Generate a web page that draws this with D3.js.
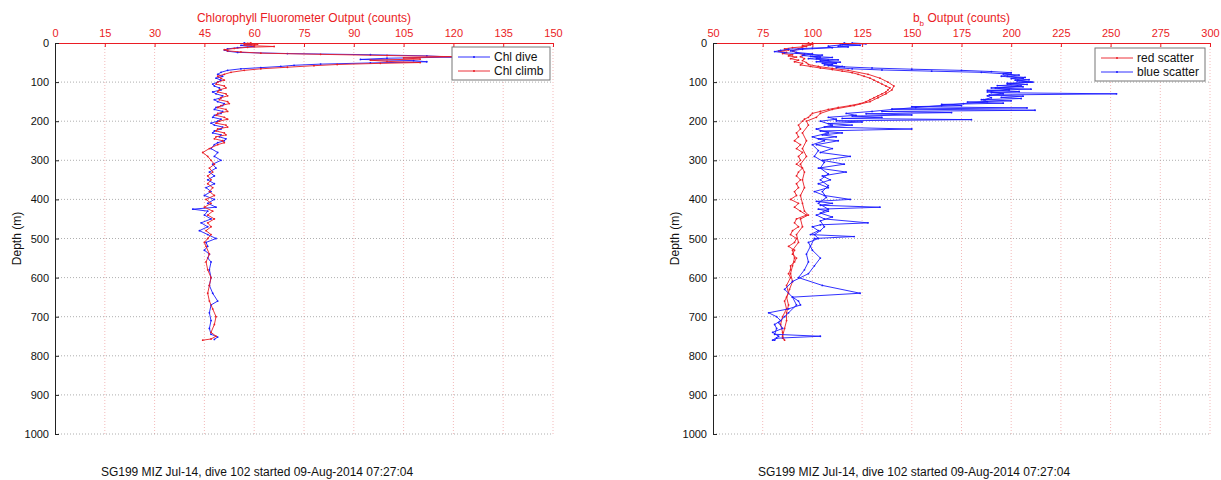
<!DOCTYPE html>
<html>
<head>
<meta charset="utf-8">
<script src="https://cdn.jsdelivr.net/npm/d3@7"></script>
<style>
  body { margin: 0; background: #fff; }
  svg { display: block; font-family: "Liberation Sans", Arial, sans-serif; }
</style>
</head>
<body>
<div id="chart"></div>
<script>
// depth ticks shared by both panels
const depthTicks = [0, 100, 200, 300, 400, 500, 600, 700, 800, 900, 1000]
const chlTicks = [0, 15, 30, 45, 60, 75, 90, 105, 120, 135, 150]
const bbTicks = [50, 75, 100, 125, 150, 175, 200, 225, 250, 275, 300]

// [depth (m), counts]
const chlDive = [[0,57],[3,59],[6,56],[9,60],[12,55],[15,52],[18,51],[21,52],[24,55],[27,70],[30,95],[33,112],[36,120],[39,100],[42,92],[45,108],[48,112],[51,95],[54,80],[57,72],[60,68],[63,62],[66,56],[70,52],[75,50],[80,49],[85,50.5],[90,48.5],[95,50],[100,49],[105,47.5],[110,48],[115,49.5],[120,50],[125,47.5],[130,48.5],[135,50.5],[140,50],[145,48],[150,49],[155,51],[160,50.5],[165,48.5],[170,48],[175,50.5],[180,50],[185,48],[190,47.5],[195,50],[200,49],[205,47],[210,48],[215,50.5],[220,50],[225,48],[230,47.5],[235,50],[240,49.5],[245,51.5],[250,51],[255,49],[260,48],[270,47],[280,49],[290,48],[300,50],[310,47.5],[320,48.5],[330,46.5],[340,48],[350,46],[360,48],[370,45.5],[380,47],[390,45],[400,48],[410,46],[420,48.5],[425,41.5],[430,46],[440,45],[450,47],[460,44],[470,46],[480,43.5],[490,46],[500,48.5],[510,45.5],[520,46],[530,45],[540,46.5],[550,46],[560,47],[580,46.5],[600,47],[620,46.5],[640,47.5],[660,49],[670,47],[690,46.5],[710,47],[730,46.5],[745,47],[752,49],[758,48]]
const chlClimb = [[760,44.5],[757,47],[750,48.5],[740,47],[720,48],[700,48.5],[680,47.5],[660,46.5],[640,46],[620,46.5],[600,47],[580,46],[560,45.5],[540,46.5],[520,45.5],[510,45],[500,46],[490,47],[480,45.5],[470,47],[460,46],[450,48],[440,46],[430,47.5],[420,45],[410,47],[400,45.5],[390,48],[380,46.5],[370,47.5],[360,46],[350,47],[340,46],[330,47.5],[320,46.5],[310,48],[300,47],[290,46],[280,44.5],[270,46.5],[260,49],[255,51],[250,50.5],[245,48],[240,48.5],[235,51.5],[230,51],[225,48.5],[220,49],[215,52],[210,51.5],[205,48.5],[200,49.5],[195,52],[190,51],[185,48.5],[180,49],[175,52],[170,51.5],[165,49],[160,50],[155,52.5],[150,52],[145,49.5],[140,50],[135,52],[130,51.5],[125,49],[120,49.5],[115,51.5],[110,51],[105,48.5],[100,49],[95,51],[90,50],[85,49],[80,51],[75,53],[70,57],[66,62],[62,70],[58,78],[55,85],[52,98],[50,110],[47,100],[44,95],[41,110],[38,105],[35,120],[32,100],[29,80],[26,62],[23,56],[20,52],[17,51],[14,54],[11,58],[9,66],[7,60],[5,57],[3,61],[1,58],[0,59]]

const redScatterDive = [[0,98],[3,100],[6,95],[9,97],[12,90],[15,86],[18,88],[21,83],[24,87],[27,85],[30,90],[33,88],[36,92],[40,89],[44,93],[48,91],[52,95],[56,94],[60,99],[64,104],[68,110],[72,115],[76,120],[80,123],[85,126],[90,129],[95,131],[100,133],[105,135],[110,137],[115,139],[120,138],[125,137],[130,135],[135,133],[140,131],[145,129],[150,127],[155,124],[160,119],[165,113],[170,108],[175,104],[180,100],[185,99],[190,98],[195,96],[200,95],[210,93],[220,94],[230,92],[240,93],[250,91],[260,94],[270,92],[280,95],[290,93],[300,94],[310,92],[320,95],[330,93],[340,92],[350,94],[360,92],[370,93],[380,91],[390,92],[400,89],[410,93],[420,91],[430,94],[440,97],[450,92],[460,91],[470,93],[480,90],[490,89],[500,92],[510,91],[520,88],[530,91],[540,90],[550,92],[560,91],[570,89],[580,89],[590,88],[600,89],[620,87],[640,88],[660,86],[680,87],[700,85],[720,84],[740,85],[755,85]]
const redScatterClimb = [[760,86],[750,85],[730,86],[710,87],[690,87],[670,88],[650,87],[630,88.5],[610,90],[590,89],[570,90],[550,91],[530,90],[510,93],[490,92],[470,95],[450,94],[440,98],[430,96],[410,95],[390,94],[370,96],[350,95],[330,96],[310,94],[290,97],[270,95],[250,97],[230,95],[210,98],[200,97],[190,102],[180,104],[170,110],[160,121],[150,129],[140,133],[130,137],[120,140],[110,141],[100,138],[90,134],[80,128],[70,118],[65,110],[60,103],[55,98],[50,97],[45,95],[40,96],[35,94],[30,96],[25,92],[20,90],[15,93],[10,95],[5,99],[0,100]]

const blueScatterDive = [[0,120],[2,127],[4,115],[6,124],[8,113],[10,118],[13,100],[16,88],[19,84],[22,81],[25,86],[28,96],[31,105],[34,99],[37,110],[40,102],[43,113],[46,104],[49,114],[52,105],[55,110],[58,108],[61,116],[64,130],[67,150],[70,175],[73,190],[76,200],[79,196],[82,204],[85,198],[88,207],[91,200],[94,209],[97,203],[100,211],[103,198],[106,208],[109,193],[112,206],[115,190],[118,210],[121,188],[124,204],[127,190],[130,253],[133,189],[136,206],[139,195],[142,205],[145,185],[148,200],[151,178],[154,196],[157,165],[160,175],[163,150],[166,208],[169,140],[172,212],[175,135],[178,170],[181,127],[184,150],[187,120],[190,135],[193,115],[196,180],[199,112],[202,125],[206,108],[210,120],[215,106],[220,150],[225,104],[230,115],[235,105],[240,112],[245,103],[250,113],[260,102],[270,110],[280,104],[290,119],[300,105],[310,116],[320,103],[330,117],[340,105],[350,109],[360,103],[370,108],[380,101],[390,106],[400,119],[405,102],[410,110],[415,104],[420,134],[425,103],[430,108],[440,102],[450,106],[460,128],[465,104],[470,100],[480,103],[490,99],[495,121],[500,101],[520,99],[540,97],[560,98],[580,96],[600,93],[620,105],[640,124],[650,90],[660,93],[670,94],[680,88],[690,78],[700,82],[710,84],[720,81],[730,82],[745,81],[750,104],[755,82],[760,81]]
const blueScatterClimb = [[760,80],[750,83],[740,80],[730,85],[715,83],[700,86],[690,88],[670,92],[650,90],[630,86],[610,90],[590,98],[570,101],[550,104],[530,100],[510,98],[500,103],[490,101],[480,104],[470,106],[455,104],[445,110],[435,104],[425,108],[410,103],[395,107],[380,105],[365,108],[350,104],[335,108],[320,104],[305,106],[290,101],[275,103],[260,100],[250,106],[240,100],[230,108],[220,102],[210,110],[200,104],[195,112],[190,108],[185,122],[180,117],[175,130],[170,140],[165,152],[160,165],[155,176],[150,188],[145,186],[140,190],[135,188],[130,196],[125,188],[120,199],[115,192],[110,205],[105,198],[100,210],[95,202],[90,206],[85,195],[80,200],[75,185],[72,160],[69,135],[66,120],[63,112],[60,115],[56,106],[52,112],[48,102],[44,108],[40,98],[36,104],[32,95],[28,100],[24,92],[20,89],[16,95],[12,110],[8,108],[5,114],[2,118],[0,116]]

const footer = 'SG199 MIZ Jul-14, dive 102 started 09-Aug-2014 07:27:04'

const RED = '#ea1c24'
const BLUE = '#1a1aff'
const width = 1221
const height = 480

const svg = d3.select('#chart').append('svg')
  .attr('width', width)
  .attr('height', height)

svg.append('rect').attr('width', width).attr('height', height).attr('fill', '#fff')

function drawPanel(opt) {
  const x = d3.scaleLinear().domain(opt.xDomain).range([opt.left, opt.right])
  const y = d3.scaleLinear().domain([0, 1000]).range([43, 434])
  const g = svg.append('g')

  // grid
  g.append('g').selectAll('line.vgrid')
    .data(opt.xTicks.slice(1))
    .join('line')
    .attr('x1', d => x(d)).attr('x2', d => x(d))
    .attr('y1', y(0)).attr('y2', y(1000))
    .attr('stroke', '#f0a8a8')
    .attr('stroke-width', 0.8)
    .attr('stroke-dasharray', '1,2')

  g.append('g').selectAll('line.hgrid')
    .data(depthTicks.slice(1))
    .join('line')
    .attr('x1', opt.left).attr('x2', opt.right)
    .attr('y1', d => y(d)).attr('y2', d => y(d))
    .attr('stroke', '#9a9a9a')
    .attr('stroke-width', 0.8)
    .attr('stroke-dasharray', '1,2')

  // data lines
  const line = d3.line().x(d => x(d[1])).y(d => y(d[0]))
  opt.series.forEach(s => {
    const pts = s.parts.flat()
    g.append('path')
      .datum(pts)
      .attr('fill', 'none')
      .attr('stroke', s.color)
      .attr('stroke-width', 0.9)
      .attr('stroke-linejoin', 'round')
      .attr('d', line)
    g.append('g').selectAll('circle')
      .data(pts)
      .join('circle')
      .attr('cx', d => x(d[1]))
      .attr('cy', d => y(d[0]))
      .attr('r', 0.9)
      .attr('fill', s.color)
  })

  // top axis (red)
  const top = g.append('g')
    .attr('transform', `translate(0,${y(0)})`)
    .call(d3.axisTop(x).tickValues(opt.xTicks).tickFormat(d3.format('d'))
      .tickSizeInner(-4).tickSizeOuter(0).tickPadding(6))
  top.select('.domain').attr('stroke', RED)
  top.selectAll('.tick line').attr('stroke', RED)
  top.selectAll('.tick text').attr('fill', RED).attr('font-size', 11)
    .attr('font-family', '"Liberation Sans", Arial, sans-serif')

  // left axis (black)
  const left = g.append('g')
    .attr('transform', `translate(${opt.left},0)`)
    .call(d3.axisLeft(y).tickValues(depthTicks).tickFormat(d3.format('d'))
      .tickSizeInner(-4).tickSizeOuter(0).tickPadding(6))
  left.select('.domain').attr('stroke', '#222')
  left.selectAll('.tick line').attr('stroke', '#222')
  left.selectAll('.tick text').attr('fill', '#111').attr('font-size', 11)
    .attr('font-family', '"Liberation Sans", Arial, sans-serif')

  // titles
  opt.title(g.append('text')
    .attr('x', (opt.left + opt.right) / 2)
    .attr('y', 22)
    .attr('text-anchor', 'middle')
    .attr('fill', RED)
    .attr('font-size', 12))

  g.append('text')
    .attr('transform', `translate(${opt.left - 34},${(y(0) + y(1000)) / 2}) rotate(-90)`)
    .attr('text-anchor', 'middle')
    .attr('font-size', 12)
    .attr('fill', '#111')
    .text('Depth (m)')

  g.append('text')
    .attr('x', opt.footerX)
    .attr('y', 476)
    .attr('text-anchor', 'middle')
    .attr('font-size', 12)
    .attr('fill', '#111')
    .text(footer)

  // legend
  const lg = g.append('g').attr('transform', `translate(${opt.legend.x},${opt.legend.y})`)
  lg.append('rect')
    .attr('width', opt.legend.w).attr('height', 33)
    .attr('fill', '#fff')
    .attr('stroke', '#777')
    .attr('stroke-width', 1)
  opt.series.forEach((s, i) => {
    const ly = 10 + i * 14
    lg.append('line')
      .attr('x1', 6).attr('x2', 38)
      .attr('y1', ly).attr('y2', ly)
      .attr('stroke', s.color).attr('stroke-width', 0.9)
    lg.append('circle').attr('cx', 22).attr('cy', ly).attr('r', 1).attr('fill', s.color)
    lg.append('text')
      .attr('x', 42).attr('y', ly + 4)
      .attr('font-size', 12)
      .attr('fill', '#111')
      .text(s.name)
  })
}

drawPanel({
  left: 55, right: 553,
  xDomain: [0, 150],
  xTicks: chlTicks,
  footerX: 257,
  legend: { x: 452, y: 47, w: 98 },
  title: t => t.text('Chlorophyll Fluorometer Output (counts)'),
  series: [
    { name: 'Chl dive', color: BLUE, parts: [chlDive] },
    { name: 'Chl climb', color: RED, parts: [chlClimb] }
  ]
})

drawPanel({
  left: 713, right: 1210,
  xDomain: [50, 300],
  xTicks: bbTicks,
  footerX: 914,
  legend: { x: 1095, y: 48, w: 110 },
  title: t => {
    t.append('tspan').text('b')
    t.append('tspan').attr('dy', 4).attr('font-size', 8).text('b')
    t.append('tspan').attr('dy', -4).text(' Output (counts)')
  },
  series: [
    { name: 'red scatter', color: RED, parts: [redScatterDive, redScatterClimb] },
    { name: 'blue scatter', color: BLUE, parts: [blueScatterDive, blueScatterClimb] }
  ]
})
</script>
</body>
</html>
